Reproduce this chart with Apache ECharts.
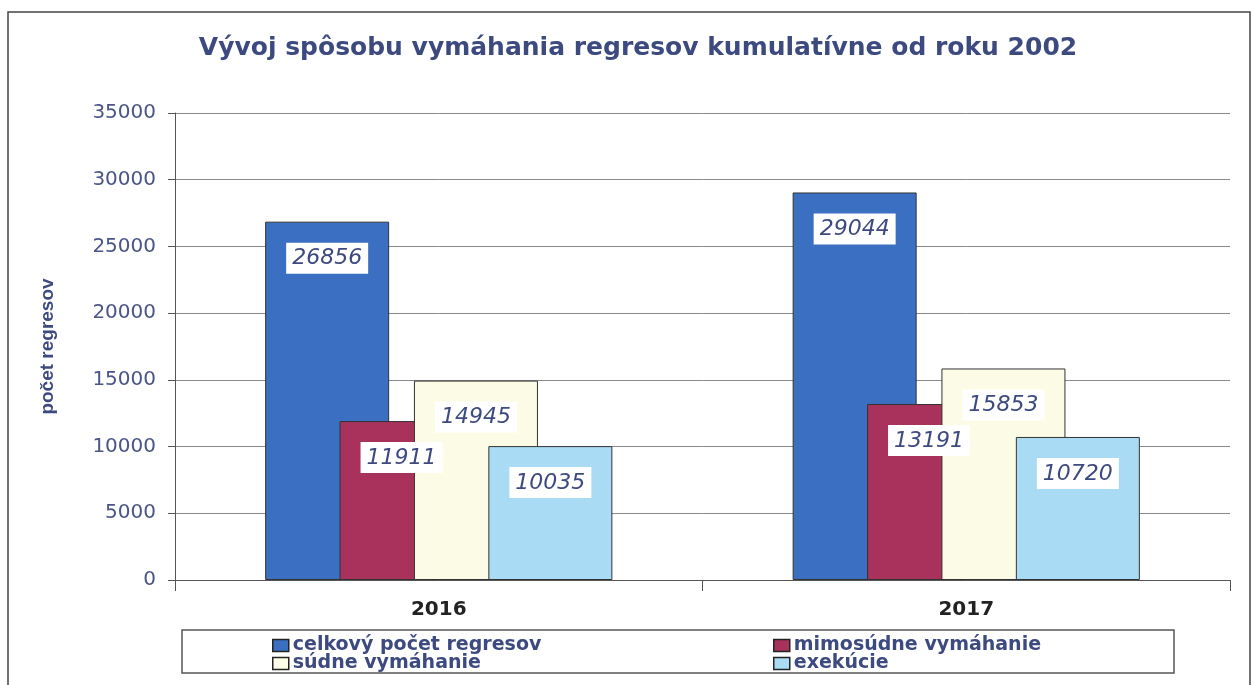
<!DOCTYPE html>
<html>
<head>
<meta charset="utf-8">
<script src="https://cdn.jsdelivr.net/npm/echarts@6/dist/echarts.min.js"></script>
<style>
html,body{margin:0;padding:0;background:#fff}
#main{width:1254px;height:685px}
</style>
</head>
<body>
<div id="main"></div>
<script>
// data
var years = ['2016', '2017'];
var seriesNames = ['celkový počet regresov', 'mimosúdne vymáhanie', 'súdne vymáhanie', 'exekúcie'];
var celkovy = [26856, 29044];
var mimosudne = [11911, 13191];
var sudne = [14945, 15853];
var exekucie = [10035, 10720];
var yTicks = [0, 5000, 10000, 15000, 20000, 25000, 30000, 35000];

var allData = [celkovy, mimosudne, sudne, exekucie];
var colors = ['#3b6fc2', '#a8325c', '#fcfce6', '#a9dcf4'];
var txtBlue = '#3d4a80';

var myChart = echarts.init(document.getElementById('main'));

// bary (bez popisov)
function bar(i) {
  return {
    name: seriesNames[i],
    type: 'bar',
    data: allData[i],
    barWidth: 124,
    barGap: '-40%',
    itemStyle: {color: colors[i], borderColor: '#333', borderWidth: 1},
    z: 2 + i
  };
}

// popisy nad vsetkymi barmi - priehladne bary na skrytej osi
function labelBar(i) {
  return {
    name: 'lbl' + i,
    type: 'bar',
    xAxisIndex: 1,
    data: allData[i],
    barWidth: 124,
    barGap: '-40%',
    silent: true,
    itemStyle: {color: 'rgba(0,0,0,0)', borderWidth: 0},
    label: {
      show: true,
      position: 'insideTop',
      distance: 21,
      fontFamily: 'DejaVu Sans, Liberation Sans, Arial',
      fontStyle: 'italic',
      fontSize: 22,
      color: txtBlue,
      backgroundColor: '#fff',
      padding: [5, 6, 4, 6]
    },
    z: 20
  };
}

var legendPos = [[272, 636], [773, 636], [272, 654], [773, 654]];
var legends = seriesNames.map(function (n, i) {
  return {
    data: [n],
    left: legendPos[i][0],
    top: legendPos[i][1],
    itemWidth: 16,
    itemHeight: 12,
    icon: 'rect',
    padding: 0,
    itemStyle: {borderColor: '#222', borderWidth: 1.5},
    textStyle: {fontFamily: 'DejaVu Sans, Liberation Sans, Arial', fontWeight: 'bold', fontSize: 19, color: txtBlue, padding: [0, 0, 0, -1]},
    selectedMode: false
  };
});

var option = {
  backgroundColor: '#fff',
  animation: false,
  title: {
    text: 'Vývoj spôsobu vymáhania regresov kumulatívne od roku 2002',
    left: 633,
    textAlign: 'center',
    top: 31,
    textStyle: {fontFamily: 'DejaVu Sans, Liberation Sans, Arial', fontWeight: 'bold', fontSize: 25, color: txtBlue}
  },
  legend: legends,
  graphic: [
    {type: 'rect', shape: {x: 8, y: 12, width: 1242, height: 690}, style: {fill: 'none', stroke: '#444', lineWidth: 1.5}, silent: true},
    {type: 'rect', shape: {x: 182, y: 630, width: 992, height: 43}, style: {fill: 'none', stroke: '#555', lineWidth: 1.5}, silent: true}
  ],
  grid: {left: 175, top: 113, right: 24, bottom: 105},
  xAxis: [{
    type: 'category',
    data: years,
    axisLine: {lineStyle: {color: '#555'}},
    axisTick: {show: true, length: 11, lineStyle: {color: '#555'}},
    axisLabel: {fontFamily: 'DejaVu Sans, Liberation Sans, Arial', fontWeight: 'bold', fontSize: 20, color: '#222', margin: 20}
  }, {
    type: 'category',
    data: years,
    show: false
  }],
  yAxis: {
    type: 'value',
    min: yTicks[0],
    max: yTicks[yTicks.length - 1],
    interval: 5000,
    name: 'počet regresov',
    nameLocation: 'middle',
    nameRotate: 90,
    nameGap: 118,
    nameTextStyle: {fontFamily: 'Liberation Sans Narrow, Liberation Sans, Arial', fontWeight: 'bold', fontSize: 19, color: txtBlue},
    axisLine: {show: true, lineStyle: {color: '#555'}},
    axisTick: {show: true, length: 7, lineStyle: {color: '#555'}},
    axisLabel: {
      fontFamily: 'DejaVu Sans, Liberation Sans, Arial',
      fontSize: 20,
      color: '#4a5588',
      margin: 19,
      formatter: function (v) { return String(v); }
    },
    splitLine: {lineStyle: {color: '#8a8a8a'}}
  },
  series: [bar(0), bar(1), bar(2), bar(3), labelBar(0), labelBar(1), labelBar(2), labelBar(3)]
};

myChart.setOption(option);
</script>
</body>
</html>
